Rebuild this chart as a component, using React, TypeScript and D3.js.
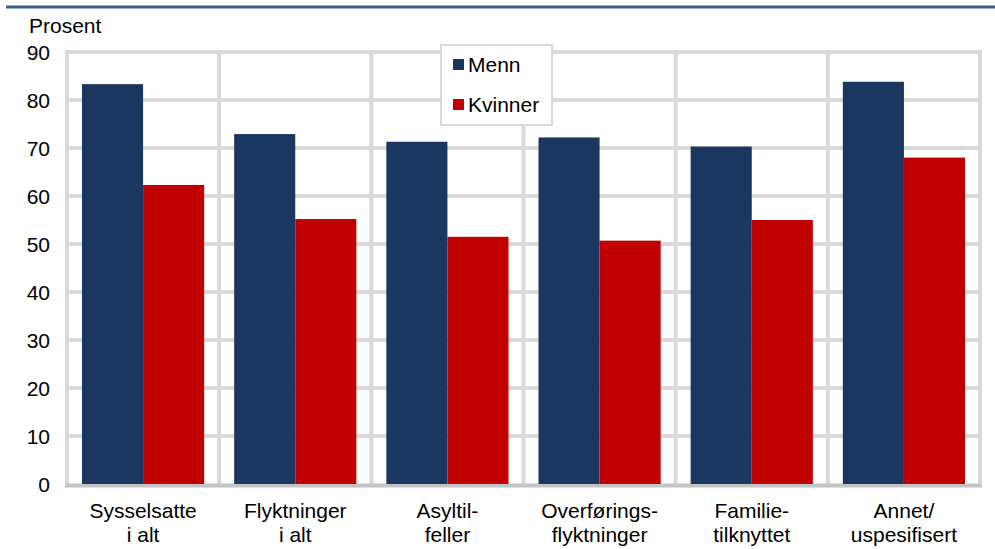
import React from "react";
import * as d3 from "d3";

const categories: string[][] = [
  ["Sysselsatte", "i alt"],
  ["Flyktninger", "i alt"],
  ["Asyltil-", "feller"],
  ["Overførings-", "flyktninger"],
  ["Familie-", "tilknyttet"],
  ["Annet/", "uspesifisert"],
];
const menn: number[] = [83.3, 72.9, 71.3, 72.2, 70.3, 83.8];
const kvinner: number[] = [62.3, 55.2, 51.5, 50.7, 55.0, 68.0];
const seriesNames = ["Menn", "Kvinner"];
const seriesColors = ["#1a375f", "#c00000"];
const yTicks = [0, 10, 20, 30, 40, 50, 60, 70, 80, 90];

const W = 995;
const H = 549;
const left = 67;
const right = 980;
const top = 52;
const bottom = 484;
const font = "'Liberation Sans', Arial, Helvetica, sans-serif";
const fs = 21;

export default function App() {
  const keys = categories.map((c) => c.join(" "));
  const x0 = d3.scaleBand<string>().domain(keys).range([left, right]).padding(0);
  const bw = x0.bandwidth();
  const x1 = d3
    .scaleBand<string>()
    .domain(seriesNames)
    .range([15, bw - 15])
    .padding(0);
  const y = d3.scaleLinear().domain([0, 90]).range([bottom, top]);
  const values = [menn, kvinner];
  const grid = "#d9d9d9";

  return (
    <svg
      width={W}
      height={H}
      style={{ position: "absolute", left: 0, top: 0, background: "#fff" }}
      fontFamily={font}
    >
      <line x1={6} x2={995} y1={7} y2={7} stroke="#3f5b8c" strokeWidth={3} />
      <text x={29} y={33} fontSize={fs} fill="#000">
        Prosent
      </text>
      {/* horizontal grid */}
      {yTicks
        .filter((t) => t > 0)
        .map((t) => (
          <line key={"h" + t} x1={left} x2={right + 2} y1={y(t)} y2={y(t)} stroke={grid} strokeWidth={4} />
        ))}
      {/* vertical grid */}
      {keys.map((k) => (
        <line key={"v" + k} x1={x0(k)!} x2={x0(k)!} y1={top - 2} y2={bottom} stroke={grid} strokeWidth={4} />
      ))}
      <line x1={right} x2={right} y1={top - 2} y2={bottom} stroke={grid} strokeWidth={4} />
      {/* bottom axis */}
      <line x1={left - 2} x2={right + 2} y1={bottom + 1.5} y2={bottom + 1.5} stroke="#c4c4c4" strokeWidth={4} />
      {/* bars */}
      {keys.map((k, i) => (
        <g key={"b" + k}>
          {seriesNames.map((s, j) => (
            <rect
              key={s}
              x={x0(k)! + x1(s)!}
              y={y(values[j][i])}
              width={x1.bandwidth()}
              height={y(0) - y(values[j][i])}
              fill={seriesColors[j]}
            />
          ))}
        </g>
      ))}
      {/* y tick labels */}
      {yTicks.map((t) => (
        <text key={"t" + t} x={50} y={y(t)} dy="0.36em" textAnchor="end" fontSize={fs} fill="#000">
          {t}
        </text>
      ))}
      {/* category labels */}
      {categories.map((c, i) => (
        <text key={"c" + i} x={x0(keys[i])! + bw / 2} y={518} textAnchor="middle" fontSize={fs} fill="#000">
          <tspan x={x0(keys[i])! + bw / 2}>{c[0]}</tspan>
          <tspan x={x0(keys[i])! + bw / 2} dy={24}>
            {c[1]}
          </tspan>
        </text>
      ))}
      {/* legend */}
      <rect x={441} y={45} width={111} height={80} fill="#fff" stroke={grid} strokeWidth={2} />
      {seriesNames.map((s, j) => (
        <g key={"l" + s} transform={`translate(453, ${59 + j * 40})`}>
          <rect x={0} y={0} width={11} height={11} fill={seriesColors[j]} />
          <text x={15} y={13} fontSize={fs} fill="#000">
            {s}
          </text>
        </g>
      ))}
    </svg>
  );
}
